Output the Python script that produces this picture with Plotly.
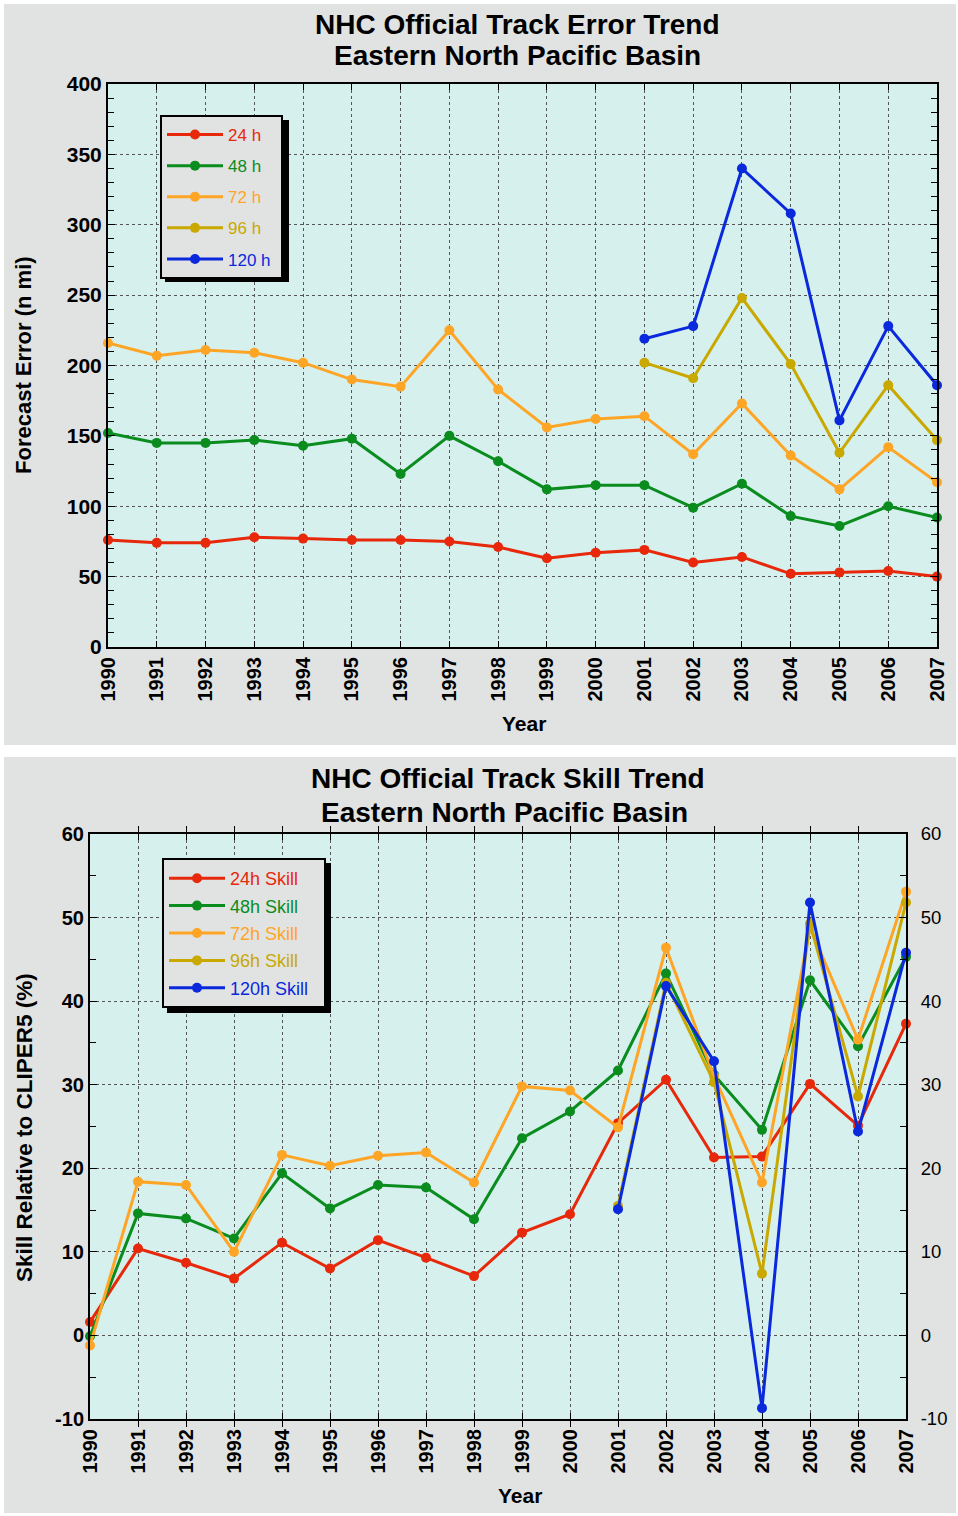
import plotly.graph_objects as go

# ---------------- data ----------------
years = list(range(1990, 2008))
years_late = list(range(2001, 2008))
year_labels = [str(y) for y in years]

err_ticks = [0, 50, 100, 150, 200, 250, 300, 350, 400]
err_tick_labels = ["0", "50", "100", "150", "200", "250", "300", "350", "400"]
skill_ticks = [-10, 0, 10, 20, 30, 40, 50, 60]
skill_tick_labels = ["-10", "0", "10", "20", "30", "40", "50", "60"]

err_24 = [76, 74, 74, 78, 77, 76, 76, 75, 71, 63, 67, 69, 60, 64, 52, 53, 54, 50]
err_48 = [152, 145, 145, 147, 143, 148, 123, 150, 132, 112, 115, 115, 99, 116, 93, 86, 100, 92]
err_72 = [216, 207, 211, 209, 202, 190, 185, 225, 183, 156, 162, 164, 137, 173, 136, 112, 142, 117]
err_96 = [202, 191, 248, 201, 138, 186, 147]
err_120 = [219, 228, 340, 308, 161, 228, 186]

skill_24 = [1.6, 10.4, 8.7, 6.8, 11.1, 8.0, 11.4, 9.3, 7.1, 12.3, 14.5, 25.4, 30.6, 21.3, 21.4, 30.1, 25.1, 37.3]
skill_48 = [-0.1, 14.6, 14.0, 11.6, 19.4, 15.2, 18.0, 17.7, 13.9, 23.6, 26.8, 31.7, 43.3, 31.2, 24.6, 42.5, 34.6, 45.3]
skill_72 = [-1.2, 18.4, 18.0, 10.0, 21.6, 20.3, 21.5, 21.9, 18.3, 29.8, 29.3, 24.9, 46.4, 31.0, 18.3, 48.8, 35.4, 53.1]
skill_96 = [15.5, 42.2, 30.3, 7.4, 49.3, 28.6, 51.8]
skill_120 = [15.1, 41.8, 32.8, -8.7, 51.8, 24.4, 45.8]

err_names = ["24 h", "48 h", "72 h", "96 h", "120 h"]
skill_names = ["24h Skill", "48h Skill", "72h Skill", "96h Skill", "120h Skill"]
colors = ["#e8280a", "#0a8c1e", "#ffa526", "#c9a800", "#0a28dc"]

# ---------------- styling ----------------
W, H = 958, 1516
FONT = "Liberation Sans, Arial, sans-serif"
PANEL = "#e1e3e2"
PLOTBG = "#d5f0ed"

def px_x(p):
    return p / W

def px_y(p):
    return 1 - p / H

fig = go.Figure()

err_series = [(years, err_24), (years, err_48), (years, err_72), (years_late, err_96), (years_late, err_120)]
skill_series = [(years, skill_24), (years, skill_48), (years, skill_72), (years_late, skill_96), (years_late, skill_120)]

for i, (xs, ys) in enumerate(err_series):
    fig.add_trace(go.Scatter(
        x=xs, y=ys, mode="lines+markers", xaxis="x", yaxis="y",
        name='<span style="color:%s">%s</span>&nbsp;' % (colors[i], err_names[i]),
        line=dict(color=colors[i], width=3), marker=dict(color=colors[i], size=10),
        cliponaxis=False, legend="legend", legendgroup="e%d" % i,
    ))

# invisible companion trace so that the right-hand skill axis (y3) is drawn
fig.add_trace(go.Scatter(
    x=years, y=skill_24, mode="lines", xaxis="x2", yaxis="y3",
    line=dict(width=0, color="rgba(0,0,0,0)"), showlegend=False, hoverinfo="skip",
))

for i, (xs, ys) in enumerate(skill_series):
    fig.add_trace(go.Scatter(
        x=xs, y=ys, mode="lines+markers", xaxis="x2", yaxis="y2",
        name='<span style="color:%s">%s</span>&nbsp;&nbsp;' % (colors[i], skill_names[i]),
        line=dict(color=colors[i], width=3), marker=dict(color=colors[i], size=10),
        cliponaxis=False, legend="legend2", legendgroup="s%d" % i,
    ))

# plot area pixel boxes
top_box = (108, 84, 937, 647)
bot_box = (90, 834, 906, 1419)

xtickfont = dict(family=FONT, size=20, color="black", weight="bold")

common_x = dict(
    tickmode="array", tickvals=years, ticktext=year_labels, tickangle=-90,
    tickfont=xtickfont, showgrid=True, gridcolor="#555555", griddash="dot", gridwidth=1,
    showline=True, linecolor="black", linewidth=2, mirror="allticks",
    ticks="inside", ticklen=6, tickcolor="black", range=[1990, 2007], zeroline=False,
    automargin=False,
)

fig.update_layout(
    template="none",
    width=W, height=H,
    margin=dict(l=0, r=0, t=0, b=0, pad=0, autoexpand=False),
    paper_bgcolor="white", plot_bgcolor=PLOTBG,
    font=dict(family=FONT, color="black"),
    hovermode="closest",
    xaxis=dict(domain=[px_x(top_box[0]), px_x(top_box[2])], anchor="y", **common_x),
    yaxis=dict(
        domain=[px_y(top_box[3]), px_y(top_box[1])], anchor="x",
        range=[0, 400], tickmode="array", tickvals=err_ticks, ticktext=err_tick_labels,
        tickfont=dict(family=FONT, size=21, color="black", weight="bold"),
        showgrid=True, gridcolor="#555555", griddash="dot", gridwidth=1,
        showline=True, linecolor="black", linewidth=2, mirror="allticks",
        ticks="inside", ticklen=7, tickcolor="black", zeroline=False, automargin=False,
        minor=dict(dtick=10, ticks="inside", ticklen=6, tickcolor="black", showgrid=False),
    ),
    xaxis2=dict(domain=[px_x(bot_box[0]), px_x(bot_box[2])], anchor="y2", **common_x),
    yaxis2=dict(
        domain=[px_y(bot_box[3]), px_y(bot_box[1])], anchor="x2",
        range=[-10, 60], tickmode="array", tickvals=skill_ticks, ticktext=skill_tick_labels,
        tickfont=dict(family=FONT, size=20, color="black", weight="bold"),
        showgrid=True, gridcolor="#555555", griddash="dot", gridwidth=1,
        showline=True, linecolor="black", linewidth=2, mirror=True,
        ticks="inside", ticklen=7, tickcolor="black", zeroline=False, automargin=False,
        minor=dict(dtick=5, ticks="inside", ticklen=6, tickcolor="black", showgrid=False),
    ),
    yaxis3=dict(
        overlaying="y2", anchor="x2", side="right",
        range=[-10, 60], tickmode="array", tickvals=skill_ticks, ticktext=skill_tick_labels,
        tickfont=dict(family=FONT, size=18.5, color="black"), showgrid=False,
        showline=True, linecolor="black", linewidth=2, ticklabelstandoff=9,
        ticks="inside", ticklen=7, tickcolor="black", zeroline=False, automargin=False,
        minor=dict(dtick=5, ticks="inside", ticklen=6, tickcolor="black", showgrid=False),
    ),
    legend=dict(
        x=px_x(160), y=px_y(115), xanchor="left", yanchor="top",
        bgcolor=PANEL, bordercolor="black", borderwidth=2,
        font=dict(family=FONT, size=17), tracegroupgap=6, itemwidth=56,
    ),
    legend2=dict(
        x=px_x(162), y=px_y(858), xanchor="left", yanchor="top",
        bgcolor=PANEL, bordercolor="black", borderwidth=2,
        font=dict(family=FONT, size=18), tracegroupgap=1, itemwidth=56,
    ),
    showlegend=True,
)

# panel backgrounds, plot backgrounds, legend shadows
shapes = [
    dict(type="rect", xref="paper", yref="paper", x0=px_x(4), x1=px_x(956), y0=px_y(745), y1=px_y(4),
         fillcolor=PANEL, line=dict(width=0), layer="below"),
    dict(type="rect", xref="paper", yref="paper", x0=px_x(4), x1=px_x(956), y0=px_y(1513), y1=px_y(757),
         fillcolor=PANEL, line=dict(width=0), layer="below"),
    dict(type="rect", xref="x domain", yref="y domain", x0=0, x1=1, y0=0, y1=1,
         fillcolor=PLOTBG, line=dict(width=0), layer="below"),
    dict(type="rect", xref="x2 domain", yref="y2 domain", x0=0, x1=1, y0=0, y1=1,
         fillcolor=PLOTBG, line=dict(width=0), layer="below"),
    dict(type="rect", xref="paper", yref="paper", x0=px_x(165), x1=px_x(289), y0=px_y(282), y1=px_y(120),
         fillcolor="black", line=dict(width=0), layer="above"),
    dict(type="rect", xref="paper", yref="paper", x0=px_x(167), x1=px_x(331), y0=px_y(1013), y1=px_y(863),
         fillcolor="black", line=dict(width=0), layer="above"),
]
fig.update_layout(shapes=shapes)

title_font = dict(family=FONT, size=28, color="black", weight="bold")
lab_font = dict(family=FONT, size=21, color="black", weight="bold")
ann = [
    dict(text="NHC Official Track Error Trend", x=px_x(517), y=px_y(24), font=title_font),
    dict(text="Eastern North Pacific Basin", x=px_x(517), y=px_y(56), font=title_font),
    dict(text="NHC Official Track Skill Trend", x=px_x(508), y=px_y(779), font=title_font),
    dict(text="Eastern North Pacific Basin", x=px_x(504), y=px_y(812), font=title_font),
    dict(text="Forecast Error (n mi)", x=px_x(23), y=px_y(365),
         font=dict(family=FONT, size=22, color="black", weight="bold"), textangle=-90),
    dict(text="Year", x=px_x(524), y=px_y(723), font=lab_font),
    dict(text="Skill Relative to CLIPER5 (%)", x=px_x(24), y=px_y(1128),
         font=dict(family=FONT, size=22.5, color="black", weight="bold"), textangle=-90),
    dict(text="Year", x=px_x(520), y=px_y(1495), font=lab_font),
]
for a in ann:
    a.update(xref="paper", yref="paper", showarrow=False, xanchor="center", yanchor="middle")
fig.update_layout(annotations=ann)

fig.write_html(
    "out.html",
    config={"displayModeBar": False},
    post_script="document.body.style.margin='0';document.body.style.overflow='hidden';",
)
